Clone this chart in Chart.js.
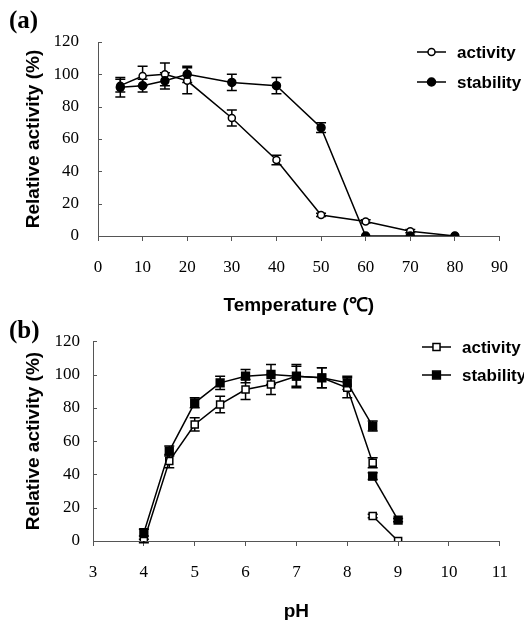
<!DOCTYPE html>
<html>
<head>
  <title>Relative activity vs temperature and pH</title>
  <script src="https://cdn.jsdelivr.net/npm/chart.js"></script>
  <style>
    body { margin: 0; background: #fff; }
    .panel { position: relative; width: 524px; }
    canvas { display: block; }
  </style>
</head>
<body>
  <div class="panel"><canvas id="tempChart" width="524" height="318"></canvas></div>
  <div class="panel"><canvas id="phChart" width="524" height="302"></canvas></div>

  <script>
    // (a) temperature
    const tempValues = [5, 10, 15, 20, 30, 40, 50, 60, 70, 80];
    const tempActivity = [93, 99, 100, 96, 73, 47, 13, 9, 3, 0];
    const tempActivityErr = [4, 6, 7, 8, 5, 3, 1, 1, 1, 0];
    const tempStability = [92, 93, 96, 100, 95, 93, 67, 0, 0, 0];
    const tempStabilityErr = [6, 4, 5, 5, 5, 5, 3, 0, 0, 0];
    const tempTicks = [0, 10, 20, 30, 40, 50, 60, 70, 80, 90];

    // (b) pH - first buffer series up to 8.5, second buffer 8.5-9
    const phValues = [4, 4.5, 5, 5.5, 6, 6.5, 7, 7.5, 8, 8.5];
    const phActivity = [0, 48, 70, 82, 91, 94, 99, 98, 92, 47];
    const phActivityErr = [1, 4, 4, 5, 6, 6, 7, 6, 6, 3];
    const phStability = [5, 54, 83, 95, 99, 100, 99, 98, 95, 69];
    const phStabilityErr = [2, 3, 3, 4, 4, 6, 6, 6, 4, 3];
    const phValuesAlk = [8.5, 9];
    const phActivityAlk = [15, 0];
    const phActivityAlkErr = [1, 0];
    const phStabilityAlk = [39, 12.5];
    const phStabilityAlkErr = [2, 1];
    const phTicks = [3, 4, 5, 6, 7, 8, 9, 10, 11];

    const yTicks = [0, 20, 40, 60, 80, 100, 120];

    const pts = (xs, ys) => xs.map((x, i) => ({ x: x, y: ys[i] }));

    const tickFont = { family: 'Liberation Serif', size: 17 };
    const titleFont = { family: 'Liberation Sans', size: 19, weight: 'bold' };
    const axisColor = '#555';

    const markers = {
      openCircle: { pointStyle: 'circle', pointRadius: 3.5, pointBackgroundColor: '#fff' },
      filledCircle: { pointStyle: 'circle', pointRadius: 4, pointBackgroundColor: '#000' },
      openSquare: { pointStyle: 'rect', pointRadius: 5, pointBackgroundColor: '#fff' },
      filledSquare: { pointStyle: 'rect', pointRadius: 5.5, pointBackgroundColor: '#000' }
    };

    function series(label, xs, ys, errs, marker) {
      return Object.assign({
        label: label, data: pts(xs, ys), errors: errs, showLine: true,
        borderColor: '#000', borderWidth: 1.5, pointBorderColor: '#000', pointBorderWidth: 1.5,
        pointHoverRadius: 0
      }, markers[marker]);
    }

    // error bars under the markers
    const errorBars = {
      id: 'errorBars',
      beforeDatasetsDraw(chart) {
        const ctx = chart.ctx;
        const ys = chart.scales.y;
        chart.data.datasets.forEach((ds, i) => {
          if (!ds.errors) return;
          chart.getDatasetMeta(i).data.forEach((pt, j) => {
            const e = ds.errors[j];
            if (!e) return;
            const v = ds.data[j].y;
            const top = ys.getPixelForValue(v + e), bot = ys.getPixelForValue(v - e);
            ctx.save();
            ctx.strokeStyle = '#000';
            ctx.lineWidth = 1.5;
            ctx.beginPath();
            ctx.moveTo(pt.x, top); ctx.lineTo(pt.x, bot);
            ctx.moveTo(pt.x - 5, top); ctx.lineTo(pt.x + 5, top);
            ctx.moveTo(pt.x - 5, bot); ctx.lineTo(pt.x + 5, bot);
            ctx.stroke();
            ctx.restore();
          });
        });
      }
    };

    // panel letter, inward y ticks and the line+marker legend
    const decor = {
      id: 'decor',
      afterDraw(chart, args, opts) {
        const ctx = chart.ctx;
        const area = chart.chartArea;
        ctx.save();
        ctx.strokeStyle = axisColor;
        ctx.lineWidth = 1;
        chart.scales.y.ticks.forEach(t => {
          const y = Math.round(chart.scales.y.getPixelForValue(t.value)) + 0.5;
          ctx.beginPath();
          ctx.moveTo(area.left, y); ctx.lineTo(area.left + 4, y);
          ctx.stroke();
        });

        ctx.fillStyle = '#000';
        ctx.font = 'bold 25px "Liberation Serif"';
        ctx.textBaseline = 'middle';
        ctx.textAlign = 'left';
        ctx.fillText(opts.letter, 9, opts.letterY);

        opts.legend.forEach(item => {
          const ds = chart.data.datasets[item.index];
          const cy = item.y;
          ctx.strokeStyle = '#000';
          ctx.lineWidth = 1.5;
          ctx.beginPath();
          ctx.moveTo(opts.legendX, cy); ctx.lineTo(opts.legendX + 29, cy);
          ctx.stroke();
          ctx.fillStyle = ds.pointBackgroundColor;
          ctx.beginPath();
          if (ds.pointStyle === 'rect') {
            const s = ds.pointRadius * Math.SQRT1_2;
            ctx.rect(opts.legendX + 14.5 - s, cy - s, 2 * s, 2 * s);
          } else {
            ctx.arc(opts.legendX + 14.5, cy, ds.pointRadius, 0, Math.PI * 2);
          }
          ctx.fill();
          ctx.stroke();
          ctx.fillStyle = '#000';
          ctx.font = 'bold 17px "Liberation Sans"';
          ctx.fillText(ds.label, opts.legendX + 40, cy + 1);
        });
        ctx.restore();
      }
    };

    function makeChart(id, datasets, xCfg, box, decorOpts) {
      return new Chart(document.getElementById(id), {
        type: 'scatter',
        data: { datasets: datasets },
        plugins: [errorBars, decor],
        options: {
          responsive: false,
          animation: false,
          layout: { padding: { left: 0, right: 14, top: box.top, bottom: 0 } },
          plugins: { legend: { display: false }, tooltip: { enabled: false }, decor: decorOpts },
          scales: {
            x: {
              type: 'linear', min: xCfg.min, max: xCfg.max,
              afterBuildTicks: s => { s.ticks = xCfg.ticks.map(v => ({ value: v })); },
              afterFit: s => { s.height = box.xHeight; },
              grid: { drawOnChartArea: false, tickLength: 5, color: axisColor },
              border: { color: axisColor },
              ticks: { font: tickFont, color: '#000', padding: 16, maxRotation: 0 },
              title: { display: true, text: xCfg.title, font: titleFont, color: '#000', padding: { top: 0, bottom: box.titlePad } }
            },
            y: {
              min: 0, max: 120,
              afterBuildTicks: s => { s.ticks = yTicks.map(v => ({ value: v })); },
              afterFit: s => { s.width = box.yWidth; },
              grid: { display: false, drawTicks: false },
              border: { color: axisColor },
              ticks: { font: tickFont, color: '#000', padding: box.yTickPad },
              title: { display: true, text: 'Relative activity (%)', font: titleFont, color: '#000', padding: { top: 22, bottom: 0 } }
            }
          }
        }
      });
    }

    makeChart('tempChart', [
      series('stability', tempValues, tempStability, tempStabilityErr, 'filledCircle'),
      series('activity', tempValues, tempActivity, tempActivityErr, 'openCircle')
    ], { min: 0, max: 90, ticks: tempTicks, title: 'Temperature (\u2103)' },
    { top: 42, xHeight: 82, yWidth: 98, yTickPad: 19, titlePad: 1 },
    { letter: '(a)', letterY: 22, legendX: 417, legend: [{ index: 1, y: 52 }, { index: 0, y: 82 }] });

    makeChart('phChart', [
      series('stability', phValues, phStability, phStabilityErr, 'filledSquare'),
      series('activity', phValues, phActivity, phActivityErr, 'openSquare'),
      series('stability', phValuesAlk, phStabilityAlk, phStabilityAlkErr, 'filledSquare'),
      series('activity', phValuesAlk, phActivityAlk, phActivityAlkErr, 'openSquare')
    ], { min: 3, max: 11, ticks: phTicks, title: 'pH' },
    { top: 20, xHeight: 79, yWidth: 93, yTickPad: 13, titlePad: -3 },
    { letter: '(b)', letterY: 14, legendX: 422, legend: [{ index: 1, y: 29 }, { index: 0, y: 57 }] });
  </script>
</body>
</html>
